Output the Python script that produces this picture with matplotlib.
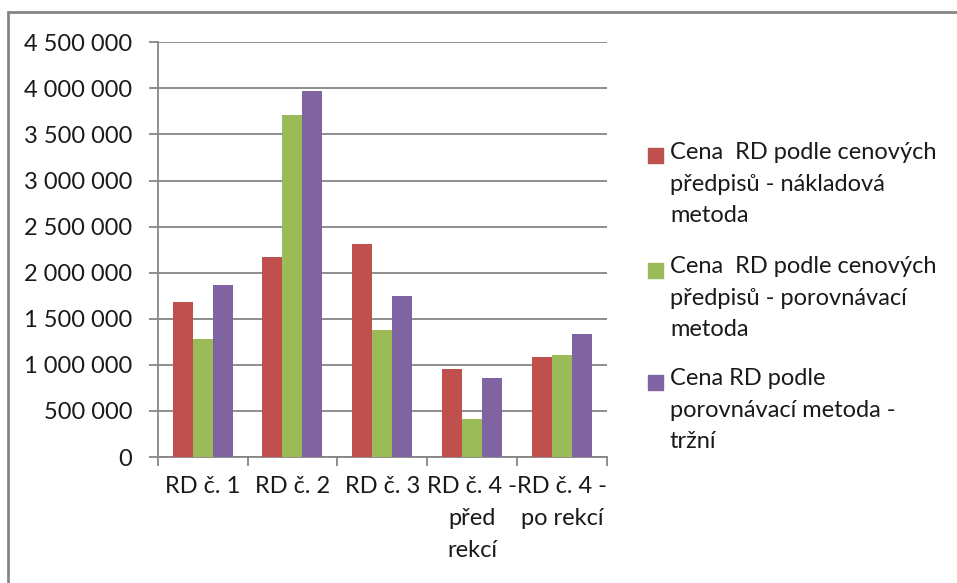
import numpy as np
import matplotlib
matplotlib.use("Agg")
import matplotlib.pyplot as plt
from matplotlib.patches import Rectangle
from matplotlib.ticker import FuncFormatter, MultipleLocator

categories = ["RD č. 1", "RD č. 2", "RD č. 3", "RD č. 4 -\npřed\nrekcí", "RD č. 4 -\npo rekcí"]
series_names = [
    "Cena  RD podle cenových\npředpisů - nákladová\nmetoda",
    "Cena  RD podle cenových\npředpisů - porovnávací\nmetoda",
    "Cena RD podle\nporovnávací metoda -\ntržní",
]
nakladova = [1680000, 2167000, 2308000, 955000, 1082000]
porovnavaci = [1277000, 3711000, 1375000, 412000, 1107000]
trzni = [1863000, 3975000, 1747000, 857000, 1331000]
colors = ["#C0504D", "#9BBB59", "#8064A2"]

plt.rcParams['font.family'] = ['Lato', 'DejaVu Sans']
text_color = "#1a1a1a"
line_color = "#868686"

fig = plt.figure(figsize=(9.57, 5.83), dpi=100)
ax = fig.add_axes([157.7 / 957, 126 / 583, 449 / 957, 414.7 / 583])

x = np.arange(len(categories))
w = 1 / 4.5
for k, vals in enumerate([nakladova, porovnavaci, trzni]):
    ax.bar(x + (k - 1) * w, vals, width=w, color=colors[k], zorder=3)

ax.set_xlim(-0.5, len(categories) - 0.5)
ax.set_ylim(0, 4500000)
ax.yaxis.set_major_locator(MultipleLocator(500000))
ax.yaxis.set_major_formatter(FuncFormatter(lambda v, p: f"{int(v):,}".replace(",", " ")))
ax.grid(axis='y', color=line_color, linewidth=1.3, zorder=0)

ax.set_xticks(x)
ax.set_xticklabels(categories, linespacing=1.62)
ax.set_xticks(np.arange(-0.5, len(categories)), minor=True)
ax.tick_params(axis='x', which='major', length=0, pad=14, labelsize=17, labelcolor=text_color)
ax.tick_params(axis='x', which='minor', length=6.5, width=1.3, color=line_color)
ax.tick_params(axis='y', length=6.5, width=1.3, color=line_color, pad=12, labelsize=17,
               labelcolor=text_color)

for s in ['top', 'right']:
    ax.spines[s].set_visible(False)
for s in ['left', 'bottom']:
    ax.spines[s].set_color(line_color)
    ax.spines[s].set_linewidth(1.3)

# outer chart border (runs off the right and bottom edges)
fig.patches.append(Rectangle((8 / 957, -0.1), 1.2, (583 - 12) / 583 + 0.1,
                             transform=fig.transFigure, fill=False,
                             edgecolor=line_color, linewidth=2))

# legend, markers aligned with first line of each entry
entry_tops = [156, 270, 382]
for k, name in enumerate(series_names):
    yc = 1 - entry_tops[k] / 583
    fig.patches.append(Rectangle((648 / 957, yc - 7.5 / 583), 15 / 957, 15 / 583,
                                 transform=fig.transFigure, color=colors[k]))
    fig.text(670 / 957, yc + 14 / 583, name, fontsize=17, color=text_color,
             va='top', ha='left', linespacing=1.62)

fig.savefig("out.png", dpi=100)
